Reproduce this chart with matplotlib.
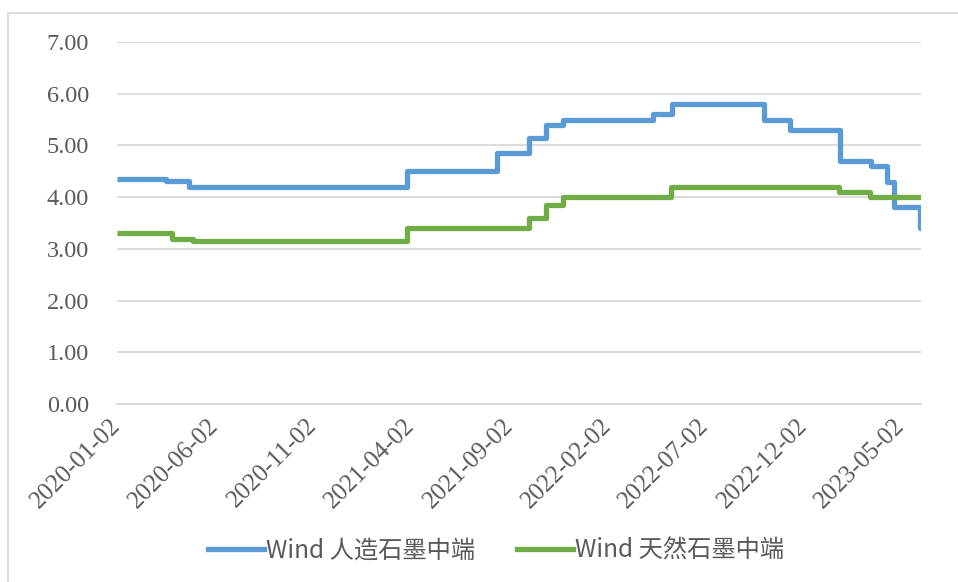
import matplotlib.pyplot as plt
from matplotlib.lines import Line2D
import pandas as pd

# step change dates (value holds until next date)
blue_dates = ['2020-01-02', '2020-03-18', '2020-04-23', '2021-03-27', '2021-08-13',
              '2021-10-02', '2021-10-28', '2021-11-24', '2022-04-12', '2022-05-12',
              '2022-10-01', '2022-11-11', '2023-01-27', '2023-03-16', '2023-04-10',
              '2023-04-21', '2023-05-31', '2023-06-02']
blue_vals = [4.35, 4.32, 4.20, 4.50, 4.85, 5.15, 5.40, 5.50, 5.60, 5.80,
             5.50, 5.30, 4.70, 4.60, 4.30, 3.80, 3.40, 3.40]

green_dates = ['2020-01-02', '2020-03-27', '2020-04-29', '2021-03-27', '2021-10-02',
               '2021-10-28', '2021-11-24', '2022-05-10', '2023-01-26', '2023-03-15',
               '2023-06-02']
green_vals = [3.30, 3.20, 3.15, 3.40, 3.60, 3.85, 4.00, 4.20, 4.10, 4.00, 4.00]

tick_dates = ['2020-01-02', '2020-06-02', '2020-11-02', '2021-04-02', '2021-09-02',
              '2022-02-02', '2022-07-02', '2022-12-02', '2023-05-02']
y_ticks = [0, 1, 2, 3, 4, 5, 6, 7]

labels = ['Wind 人造石墨中端', 'Wind 天然石墨中端']
colors = ['#5B9BD5', '#70AD47']

txt = '#595959'
grid_c = '#D9D9D9'

fig = plt.figure(figsize=(9.58, 5.82), dpi=100)
ax = fig.add_axes([117/958, 1-404/582, (921-117)/958, (404-42)/582])

bd = pd.to_datetime(blue_dates)
gd = pd.to_datetime(green_dates)
ax.plot(bd, blue_vals, drawstyle='steps-post', color=colors[0], lw=3.8,
        solid_joinstyle='round', solid_capstyle='butt', zorder=3)
ax.plot(gd, green_vals, drawstyle='steps-post', color=colors[1], lw=3.8,
        solid_joinstyle='round', solid_capstyle='butt', zorder=3)

ax.set_ylim(0, 7)
ax.set_xlim(pd.Timestamp('2020-01-02'), pd.Timestamp('2023-06-02'))
ax.set_yticks(y_ticks)
ax.set_yticklabels(['%.2f' % v for v in y_ticks])
ax.set_xticks(pd.to_datetime(tick_dates))
ax.set_xticklabels(tick_dates, rotation=45, ha='right', va='center',
                   rotation_mode='anchor')

for lab in ax.get_xticklabels():
    lab.set_family('Liberation Serif')
    lab.set_fontsize(18)
    lab.set_color(txt)
for lab in ax.get_yticklabels():
    lab.set_family('Liberation Serif')
    lab.set_fontsize(17.5)
    lab.set_color(txt)

ax.tick_params(axis='both', length=0)
ax.tick_params(axis='y', pad=20)
ax.tick_params(axis='x', pad=13)
ax.grid(axis='y', color=grid_c, lw=1.3)
ax.set_axisbelow(True)
for s in ['left', 'right', 'top']:
    ax.spines[s].set_visible(False)
ax.spines['bottom'].set_color(grid_c)
ax.spines['bottom'].set_linewidth(1.3)

handles = [Line2D([0], [0], color=c, lw=3.8) for c in colors]
leg = fig.legend(handles, labels, loc='center', bbox_to_anchor=(496/958, 1-551/582),
                 ncol=2, frameon=False, handlelength=2.3, handletextpad=0.1,
                 columnspacing=1.7, prop={'family': ['Noto Sans CJK SC', 'DejaVu Sans'], 'size': 17.5})
for t in leg.get_texts():
    t.set_color(txt)

# chart area border (left/top visible)
fig.add_artist(Line2D([8/958, 8/958], [0, 1-13/582], color=grid_c, lw=1.3))
fig.add_artist(Line2D([8/958, 1], [1-13/582, 1-13/582], color=grid_c, lw=1.3))

fig.savefig('out.png', dpi=100)
